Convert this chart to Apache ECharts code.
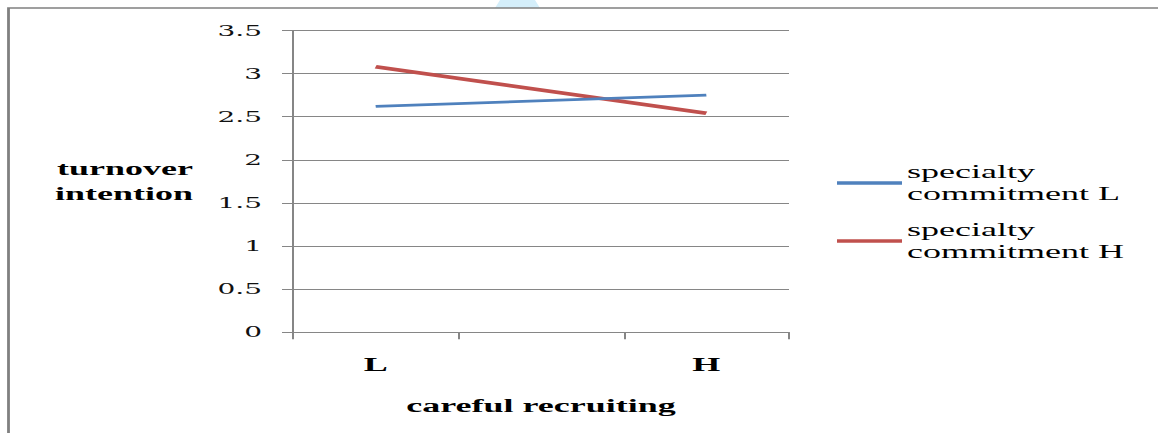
<!DOCTYPE html>
<html>
<head>
<meta charset="utf-8">
<script src="https://cdn.jsdelivr.net/npm/echarts@6/dist/echarts.min.js"></script>
<style>
  html, body { margin: 0; padding: 0; background: #fff; overflow: hidden; }
  /* Chart is laid out at half width and widened 2x, giving the broad serif lettering */
  #chart { width: 579px; height: 433px; transform: scaleX(2); transform-origin: 0 0; }
</style>
</head>
<body>
<div id="chart"></div>
<script>
// Careful recruiting level on the x axis; the middle slot is an empty spacer category
const categories = ['L', '', 'H'];
const seriesNames = ['specialty commitment L', 'specialty commitment H'];
const commitmentLow = [2.62, null, 2.75];
const commitmentHigh = [3.08, null, 2.54];
const yTicks = { min: 0, max: 3.5, step: 0.5 };

const serif = '"Liberation Serif", "Times New Roman", serif';
const gray = '#868686';

const chart = echarts.init(document.getElementById('chart'), null, { renderer: 'svg' });

chart.setOption({
  backgroundColor: '#fff',
  animation: false,
  color: ['#4f81bd', '#c0504d'],
  graphic: [
    {
      type: 'polygon',
      shape: { points: [[250, 0], [267.5, 0], [270, 8], [247.5, 8]] },
      style: { fill: '#d4eefa' },
      silent: true
    },
    {
      type: 'polyline',
      shape: { points: [[4.25, 440], [4.25, 8], [600, 8]] },
      style: { stroke: '#808080', lineWidth: 1.4, fill: null },
      silent: true
    }
  ],
  grid: { left: 146.5, right: 184.5, top: 30.5, bottom: 100.7 },
  legend: {
    orient: 'vertical',
    left: 418.5,
    top: 150,
    padding: 0,
    itemGap: -8,
    itemWidth: 32.5,
    itemHeight: 3.5,
    icon: 'rect',
    itemStyle: { borderWidth: 0 },
    formatter: name => name.replace(' ', '\n'),
    textStyle: {
      fontFamily: serif, fontSize: 18, lineHeight: 22, color: '#000',
      padding: [22, 0, 0, -2.5]
    },
    data: seriesNames
  },
  xAxis: {
    type: 'category',
    data: categories,
    boundaryGap: true,
    name: 'careful recruiting',
    nameLocation: 'middle',
    nameGap: 65,
    nameTextStyle: { fontFamily: serif, fontWeight: 'bold', fontSize: 18, lineHeight: 18, color: '#000' },
    axisLine: { lineStyle: { color: gray, width: 1 } },
    axisTick: { show: true, length: 7, interval: 0, lineStyle: { color: gray } },
    axisLabel: { interval: 0, margin: 24, fontFamily: serif, fontWeight: 'bold', fontSize: 18, color: '#000' },
    splitLine: { show: false }
  },
  yAxis: {
    type: 'value',
    min: yTicks.min,
    max: yTicks.max,
    interval: yTicks.step,
    name: 'turnover\nintention',
    nameLocation: 'middle',
    nameRotate: 0,
    nameGap: 50,
    nameTextStyle: { fontFamily: serif, fontWeight: 'bold', fontSize: 18, lineHeight: 25, color: '#000' },
    axisLine: { show: true, lineStyle: { color: gray, width: 1 } },
    axisTick: { show: true, length: 5.5, lineStyle: { color: gray } },
    axisLabel: { margin: 15.5, fontFamily: '"DejaVu Serif", serif', fontSize: 14, color: '#111' },
    splitLine: { show: true, lineStyle: { color: gray, width: 1 } }
  },
  series: [
    {
      name: seriesNames[0],
      type: 'line',
      data: commitmentLow,
      connectNulls: true,
      symbol: 'none',
      lineStyle: { width: 2.8, color: '#4f81bd' },
      z: 3
    },
    {
      name: seriesNames[1],
      type: 'line',
      data: commitmentHigh,
      connectNulls: true,
      symbol: 'none',
      lineStyle: { width: 3.5, color: '#c0504d' },
      z: 2
    }
  ]
});
</script>
</body>
</html>
